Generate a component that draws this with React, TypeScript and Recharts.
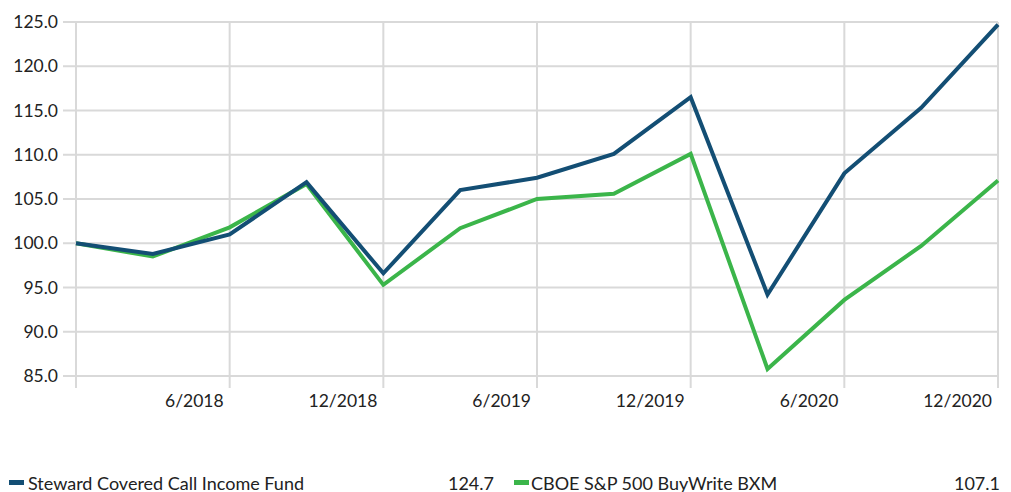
import { LineChart, Line, XAxis, YAxis, CartesianGrid } from "recharts";

const quarters = [
  "12/2017", "3/2018", "6/2018", "9/2018", "12/2018", "3/2019", "6/2019",
  "9/2019", "12/2019", "3/2020", "6/2020", "9/2020", "12/2020",
];
const steward = [100.0, 98.8, 101.0, 106.9, 96.6, 106.0, 107.4, 110.1, 116.5, 94.2, 107.9, 115.3, 124.7];
const bxm = [100.0, 98.5, 101.8, 106.7, 95.3, 101.7, 105.0, 105.6, 110.1, 85.8, 93.6, 99.7, 107.1];
const xTicks = [0, 2, 4, 6, 8, 10, 12];
const yTicks = [85, 90, 95, 100, 105, 110, 115, 120, 125];

const data = quarters.map((q, i) => ({ i, q, steward: steward[i], bxm: bxm[i] }));

const NAVY = "#134e74";
const GREEN = "#3bb54a";
const GRID = "#d9d9d9";
const FONT = "Lato, 'Open Sans', sans-serif";

const XTick = (props: any) => {
  const { x, y, payload } = props;
  const label = payload.value === 0 ? "" : quarters[payload.value];
  return (
    <text x={x - 6} y={y + 17} textAnchor="end" fontFamily={FONT} fontSize={17.5} fill="#222">
      {label}
    </text>
  );
};

export default function App() {
  return (
    <div style={{ position: "absolute", left: 0, top: 0, width: 1011, height: 492, background: "#fff", fontFamily: FONT }}>
      <LineChart width={1011} height={420} data={data} margin={{ top: 22, right: 13, left: 0, bottom: 0 }}>
        <CartesianGrid stroke={GRID} strokeWidth={2} />
        <XAxis
          dataKey="i"
          type="number"
          domain={[0, 12]}
          ticks={xTicks}
          height={44}
          axisLine={false}
          tickLine={{ stroke: GRID, strokeWidth: 2 }}
          tickSize={12}
          tick={<XTick />}
        />
        <YAxis
          type="number"
          domain={[85, 125]}
          ticks={yTicks}
          width={76}
          axisLine={false}
          tickLine={{ stroke: GRID, strokeWidth: 2 }}
          tickSize={13}
          tickMargin={5}
          tickFormatter={(v: number) => v.toFixed(1)}
          tick={{ fontFamily: FONT, fontSize: 17.5, fill: "#222" }}
        />
        <Line dataKey="bxm" stroke={GREEN} strokeWidth={4} dot={false} isAnimationActive={false} strokeLinejoin="miter" />
        <Line dataKey="steward" stroke={NAVY} strokeWidth={4} dot={false} isAnimationActive={false} strokeLinejoin="miter" />
      </LineChart>
      <div style={{ position: "absolute", top: 472, left: 0, width: 1011, fontSize: 18, color: "#222", lineHeight: "22px" }}>
        <span style={{ position: "absolute", left: 9, top: 8, width: 15, height: 5, background: NAVY }} />
        <span style={{ position: "absolute", left: 28 }}>Steward Covered Call Income Fund</span>
        <span style={{ position: "absolute", right: 1011 - 494 }}>{steward[steward.length - 1].toFixed(1)}</span>
        <span style={{ position: "absolute", left: 514, top: 8, width: 15, height: 5, background: GREEN }} />
        <span style={{ position: "absolute", left: 531 }}>CBOE S&amp;P 500 BuyWrite BXM</span>
        <span style={{ position: "absolute", right: 1011 - 1000 }}>{bxm[bxm.length - 1].toFixed(1)}</span>
      </div>
    </div>
  );
}
